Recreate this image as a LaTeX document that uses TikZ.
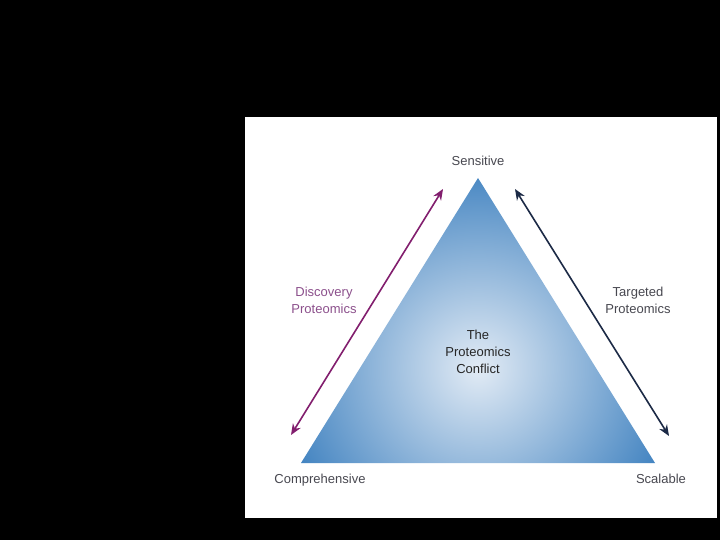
\documentclass[tikz,border=0pt]{standalone}
\usepackage{fontspec}
\setmainfont{Liberation Sans}
\usetikzlibrary{arrows.meta,positioning}
\definecolor{trioutblue}{RGB}{64,130,192}
\definecolor{triinblue}{RGB}{226,235,245}
\definecolor{discpurple}{RGB}{130,30,110}
\definecolor{disctext}{RGB}{140,80,140}
\definecolor{targnavy}{RGB}{28,42,70}
\definecolor{labelgray}{RGB}{72,72,80}

\begin{document}
\begin{tikzpicture}[x=1pt,y=-1pt,
  corner/.style={text=labelgray,font=\fontsize{13}{17}\selectfont},
  side/.style={align=center,font=\fontsize{13}{17}\selectfont},
  twoway/.style={{Stealth[length=11pt,width=9pt,inset=3.5pt]}-{Stealth[length=11pt,width=9pt,inset=3.5pt]},line width=1.6pt}]
  \fill[black] (0,0) rectangle (720,540);
  \fill[white] (245,117) rectangle (717,518);
  \coordinate (top) at (478,178);
  \coordinate (left) at (301,463);
  \coordinate (right) at (655,463);
  \begin{scope}
    \clip (top) -- (left) -- (right) -- cycle;
    \shade[inner color=triinblue,outer color=trioutblue] (478,368) circle (205pt);
  \end{scope}
  % corner labels
  \node[corner] (sens) at (478,161) {Sensitive};
  \node[corner] (comp) at (320,480) {Comprehensive};
  \node[corner] (scal) at (661,479) {Scalable};
  \node[side,text=disctext] (disc) at (324,300) {Discovery\\Proteomics};
  \node[side,text=labelgray] (targ) at (638,300) {Targeted\\Proteomics};
  \node[side,text=black!85] (conf) at (478,352) {The\\Proteomics\\Conflict};
  % double arrows
  \coordinate (dlow) at (291,435);
  \coordinate (dhigh) at (443,189);
  \coordinate (thigh) at (515,189);
  \coordinate (tlow) at (669,436);
  \draw[twoway,discpurple] (dlow) -- (dhigh);
  \draw[twoway,targnavy] (thigh) -- (tlow);
\end{tikzpicture}
\end{document}
